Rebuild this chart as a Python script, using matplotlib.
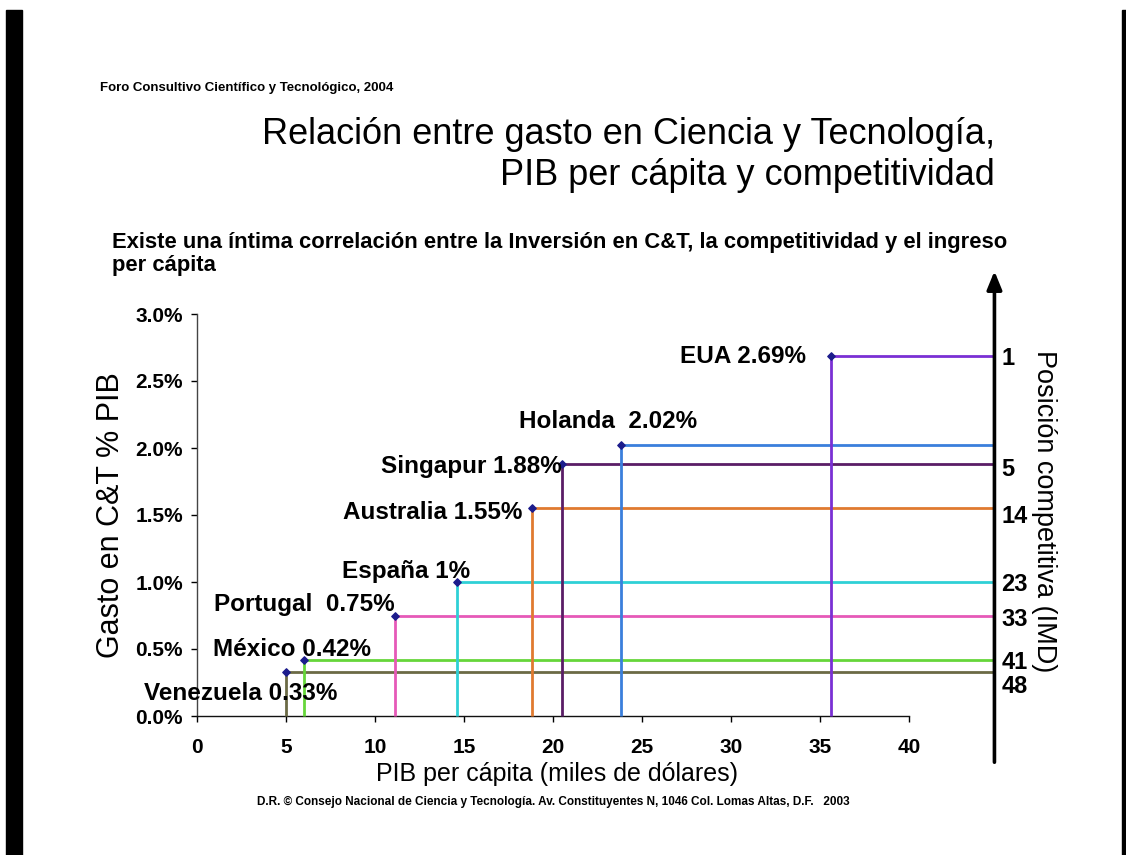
import matplotlib
matplotlib.use("Agg")
import matplotlib.pyplot as plt
from matplotlib.patches import Rectangle
from matplotlib.ticker import FuncFormatter

SANS = ['Liberation Sans', 'DejaVu Sans']
plt.rcParams['font.family'] = SANS

# Datos por país
paises = ['Venezuela', 'México', 'Portugal', 'España', 'Australia', 'Singapur', 'Holanda', 'EUA']
pib_pc = [5.0, 6.0, 11.1, 14.6, 18.8, 20.5, 23.8, 35.6]        # miles de dólares
gasto_ct = [0.33, 0.42, 0.75, 1.0, 1.55, 1.88, 2.02, 2.69]      # % del PIB
etiquetas = ['Venezuela 0.33%', 'México 0.42%', 'Portugal  0.75%', 'España 1%',
             'Australia 1.55%', 'Singapur 1.88%', 'Holanda  2.02%', 'EUA 2.69%']
posicion_imd = ['48', '41', '33', '23', '14', '5', '', '1']

colores = ['#6b6a45', '#66d63a', '#e659b8', '#2fd0d6', '#e07a30',
           '#5a1d66', '#3a7fdc', '#7a30d4']

# ubicación de los textos (x derecha, y centro)
pos_etiqueta = [(7.9, 0.17), (9.75, 0.50), (11.1, 0.835), (15.35, 1.075),
                (18.3, 1.52), (20.5, 1.865), (28.1, 2.20), (34.2, 2.68)]
pos_rango = [0.22, 0.40, 0.72, 0.98, 1.49, 1.84, None, 2.67]

x_eje = 44.8

fig = plt.figure(figsize=(11.26, 8.55), dpi=100)
ax = fig.add_axes([197 / 1126, 1 - 716 / 855, 48 * 17.8 / 1126, 402 / 855])
ax.set_xlim(0, 48)
ax.set_ylim(0, 3.0)

for x, y, c in zip(pib_pc, gasto_ct, colores):
    ax.plot([x, x], [0, y], color=c, lw=2.0, solid_capstyle='butt', clip_on=False, zorder=3)
    ax.plot([x, x_eje], [y, y], color=c, lw=2.0, solid_capstyle='butt', clip_on=False, zorder=3)
ax.scatter(pib_pc, gasto_ct, marker='D', s=14, color='#1c1c8c', zorder=5, clip_on=False)

for txt, (tx, ty) in zip(etiquetas, pos_etiqueta):
    ax.text(tx, ty, txt, ha='right', va='center', fontsize=17.5, fontweight='bold', zorder=6)

for r, ry in zip(posicion_imd, pos_rango):
    if r:
        ax.text(45.2, ry, r, ha='left', va='center', fontsize=17, fontweight='bold')

# eje de posición competitiva
ax.annotate('', xy=(x_eje, 3.32), xytext=(x_eje, -0.345), xycoords='data',
            annotation_clip=False,
            arrowprops=dict(arrowstyle='-|>,head_length=1.1,head_width=0.45',
                            color='black', lw=2.6, shrinkA=0, shrinkB=0))
ax.text(47.6, 1.53, 'Posición competitiva (IMD)', rotation=-90, ha='center', va='center',
        fontsize=19.5)

for s in ['top', 'right']:
    ax.spines[s].set_visible(False)
ax.spines['bottom'].set_bounds(0, 40)
ax.spines['left'].set_linewidth(1.0)
ax.spines['bottom'].set_linewidth(1.0)
ax.spines['left'].set_color('#444444')
ax.spines['bottom'].set_color('#111111')
ax.set_xticks(range(0, 41, 5))
ax.set_yticks([0, 0.5, 1.0, 1.5, 2.0, 2.5, 3.0])
ax.yaxis.set_major_formatter(FuncFormatter(lambda v, p: f'{v:.1f}%'))
ax.tick_params(direction='out', length=4, width=1, labelsize=15)
ax.tick_params(axis='x', pad=12)
ax.tick_params(axis='y', pad=6)
for lb in ax.get_xticklabels() + ax.get_yticklabels():
    lb.set_fontweight('bold')

ax.set_xlabel('PIB per cápita (miles de dólares)', fontsize=18)
ax.xaxis.set_label_coords(20.2 / 48, -0.115)
ax.set_ylabel('Gasto en C&T % PIB', fontsize=22)
ax.yaxis.set_label_coords(-0.083, 0.5)

# textos de la lámina
fig.text(100 / 1126, 1 - 88 / 855, 'Foro Consultivo Científico y Tecnológico, 2004',
         fontsize=9.5, fontweight='bold', va='center')
fig.text(995 / 1126, 1 - 155 / 855,
         'Relación entre gasto en Ciencia y Tecnología,\nPIB per cápita y competitividad',
         fontsize=26, ha='right', va='center', linespacing=1.25)
fig.text(112 / 1126, 1 - 254 / 855,
         'Existe una íntima correlación entre la Inversión en C&T, la competitividad y el ingreso\nper cápita',
         fontsize=15.8, fontweight='bold', va='center', linespacing=1.1)
fig.text(553 / 1126, 1 - 802 / 855,
         'D.R. © Consejo Nacional de Ciencia y Tecnología. Av. Constituyentes N, 1046 Col. Lomas Altas, D.F.   2003',
         fontsize=8.5, fontweight='bold', ha='center', va='center')

# barras laterales
fig.patches.append(Rectangle((6 / 1126, 0), 16 / 1126, 845 / 855, transform=fig.transFigure,
                             color='black', zorder=0))
fig.patches.append(Rectangle((1122 / 1126, 0), 4 / 1126, 845 / 855, transform=fig.transFigure,
                             color='black', zorder=0))

fig.savefig('out.png', dpi=100)
